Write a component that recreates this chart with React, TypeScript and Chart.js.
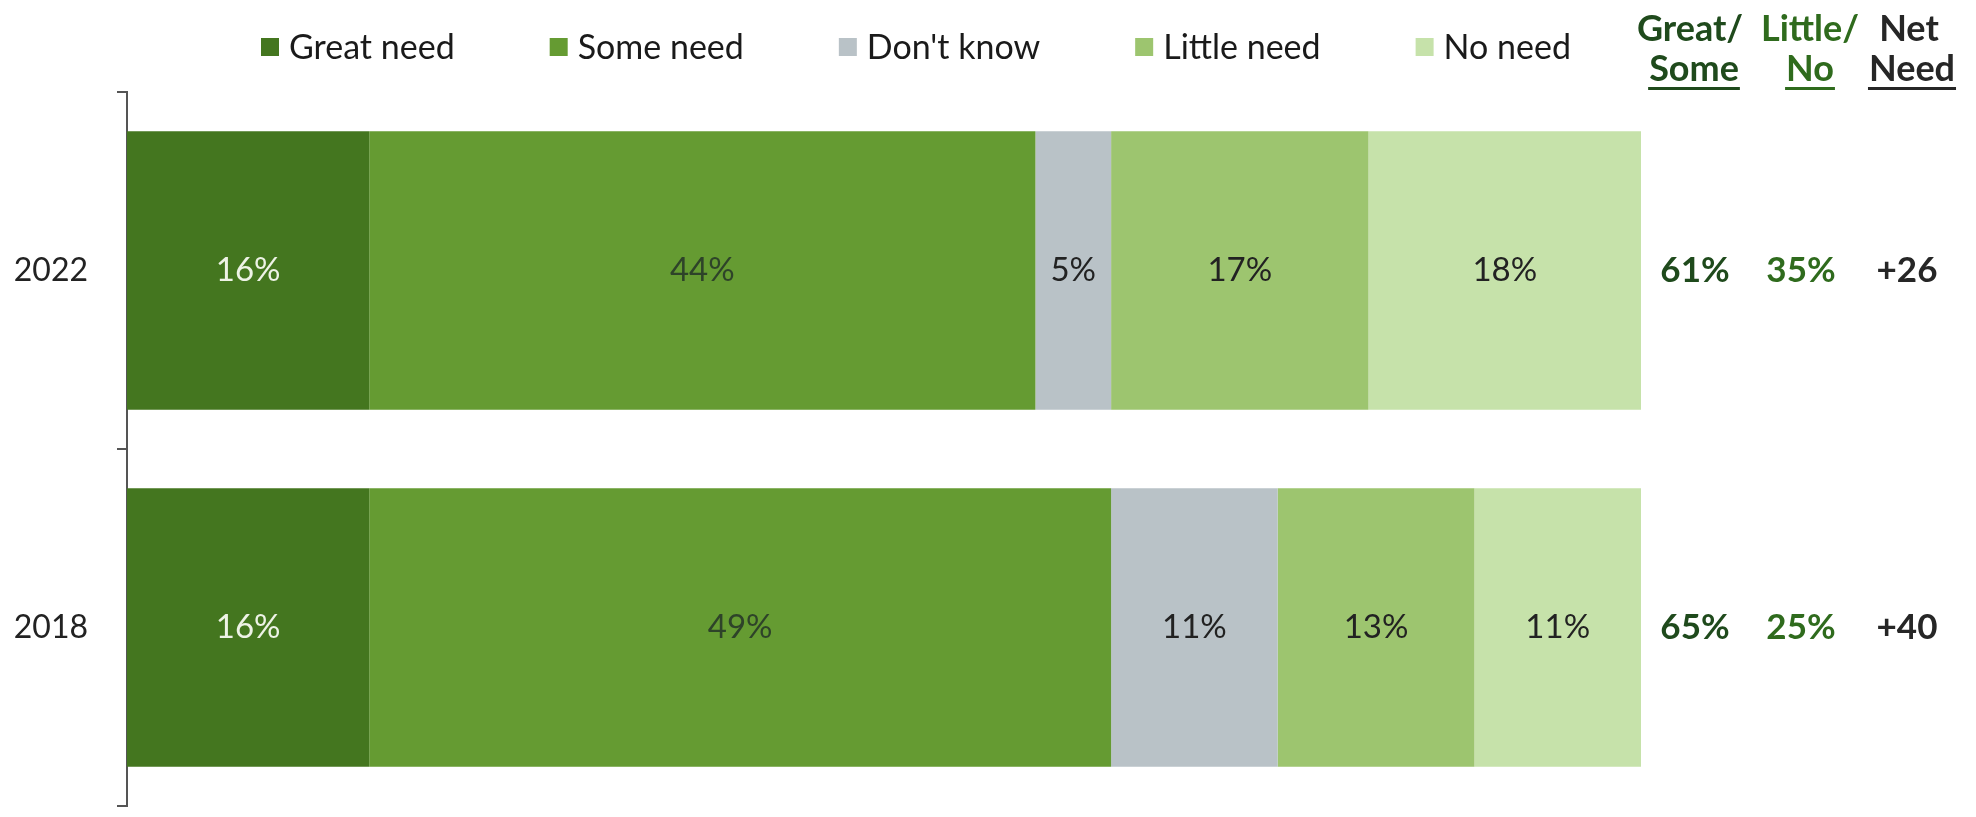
import React, { useEffect, useRef } from "react";
import { Chart, registerables } from "chart.js";

Chart.register(...registerables);

// ---- data ----
const categories = ["2022", "2018"];
const seriesNames = ["Great need", "Some need", "Don't know", "Little need", "No need"];
const greatNeed = [16, 16];
const someNeed = [44, 49];
const dontKnow = [5, 11];
const littleNeed = [17, 13];
const noNeed = [18, 11];
const greatSome = ["61%", "65%"];
const littleNo = ["35%", "25%"];
const netNeed = ["+26", "+40"];
const headerTop = ["Great/", "Little/", "Net"];
const headerBottom = ["Some", "No", "Need"];

const seriesColors = ["#44761f", "#659b32", "#b9c2c7", "#9dc56f", "#c6e2aa"];
const labelColors = ["#eef3e6", "#2e4329", "#222222", "#222222", "#222222"];
const colColors = ["#1f4a1c", "#2f6b1d", "#262626"];

const FONT = "Lato, 'Open Sans', sans-serif";

const barLabelsPlugin = {
  id: "barLabels",
  afterDatasetsDraw(chart: any) {
    const ctx = chart.ctx;
    ctx.save();
    ctx.font = `33px ${FONT}`;
    ctx.textAlign = "center";
    ctx.textBaseline = "middle";
    chart.data.datasets.forEach((ds: any, di: number) => {
      const meta = chart.getDatasetMeta(di);
      meta.data.forEach((el: any, i: number) => {
        const cx = (el.x + el.base) / 2;
        ctx.fillStyle = labelColors[di];
        ctx.fillText(ds.data[i] + "%", cx, el.y);
      });
    });
    ctx.restore();
  },
};

const sideColumnsPlugin = {
  id: "sideColumns",
  afterDraw(chart: any) {
    const ctx = chart.ctx;
    const area = chart.chartArea;
    const yScale = chart.scales.y;
    const colX = [area.right + 54, area.right + 160, area.right + 266];
    ctx.save();
    ctx.textBaseline = "middle";
    ctx.textAlign = "center";
    ctx.font = `bold 35px ${FONT}`;
    const cols = [greatSome, littleNo, netNeed];
    categories.forEach((_, i) => {
      const y = yScale.getPixelForValue(i);
      cols.forEach((col, c) => {
        ctx.fillStyle = colColors[c];
        ctx.fillText(col[i], colX[c], y);
      });
    });
    ctx.font = `bold 36px ${FONT}`;
    ctx.textBaseline = "alphabetic";
    const hx1 = [area.right + 49, area.right + 169, area.right + 268];
    const hx2 = [area.right + 53, area.right + 169, area.right + 271];
    headerTop.forEach((t, c) => {
      ctx.fillStyle = colColors[c];
      ctx.fillText(t, hx1[c], area.top - 51);
    });
    headerBottom.forEach((t, c) => {
      ctx.fillStyle = colColors[c];
      ctx.fillText(t, hx2[c], area.top - 11);
      const w = ctx.measureText(t).width;
      ctx.fillRect(hx2[c] - w / 2 - 1, area.top - 5, w + 2, 3);
    });
    ctx.restore();
  },
};

const legendPlugin = {
  id: "customLegend",
  afterDraw(chart: any) {
    const ctx = chart.ctx;
    const area = chart.chartArea;
    ctx.save();
    ctx.font = `34px ${FONT}`;
    ctx.textBaseline = "middle";
    ctx.textAlign = "left";
    const box = 18;
    const gapBoxText = 10;
    const gapItems = 95;
    const y = area.top - 45;
    let x = area.left + 134;
    chart.data.datasets.forEach((ds: any) => {
      ctx.fillStyle = ds.backgroundColor;
      ctx.fillRect(x, y - box / 2, box, box);
      ctx.fillStyle = "#1a1a1a";
      ctx.fillText(ds.label, x + box + gapBoxText, y + 1);
      x += box + gapBoxText + ctx.measureText(ds.label).width + gapItems;
    });
    ctx.restore();
  },
};

export default function App() {
  const canvasRef = useRef<HTMLCanvasElement | null>(null);

  useEffect(() => {
    if (!canvasRef.current) return;
    const values = [greatNeed, someNeed, dontKnow, littleNeed, noNeed];
    const chart = new Chart(canvasRef.current, {
      type: "bar",
      data: {
        labels: categories,
        datasets: seriesNames.map((name, i) => ({
          label: name,
          data: values[i],
          backgroundColor: seriesColors[i],
          borderWidth: 0,
          barPercentage: 0.78,
          categoryPercentage: 1,
        })),
      },
      options: {
        indexAxis: "y",
        animation: false,
        responsive: false,
        maintainAspectRatio: false,
        layout: { padding: { left: 0, top: 84, right: 327, bottom: 3 } },
        plugins: {
          legend: { display: false },
          tooltip: { enabled: false },
        },
        scales: {
          x: {
            stacked: true,
            min: 0,
            max: 100,
            display: false,
          },
          y: {
            stacked: true,
            afterFit: (scale: any) => {
              scale.width = 119;
              scale.paddingTop = 0;
              scale.paddingBottom = 0;
            },
            grid: {
              display: true,
              drawOnChartArea: false,
              drawTicks: true,
              offset: true,
              tickLength: 10,
              color: "#555555",
              lineWidth: 2,
            },
            border: { display: true, color: "#555555", width: 2 },
            ticks: {
              padding: 29,
              color: "#222222",
              font: { family: FONT, size: 32 },
            },
          },
        },
      },
      plugins: [barLabelsPlugin, sideColumnsPlugin, legendPlugin],
    });
    return () => chart.destroy();
  }, []);

  return (
    <div style={{ width: 1960, height: 801 }}>
      <canvas ref={canvasRef} width={1960} height={801} style={{ display: "block" }} />
    </div>
  );
}
